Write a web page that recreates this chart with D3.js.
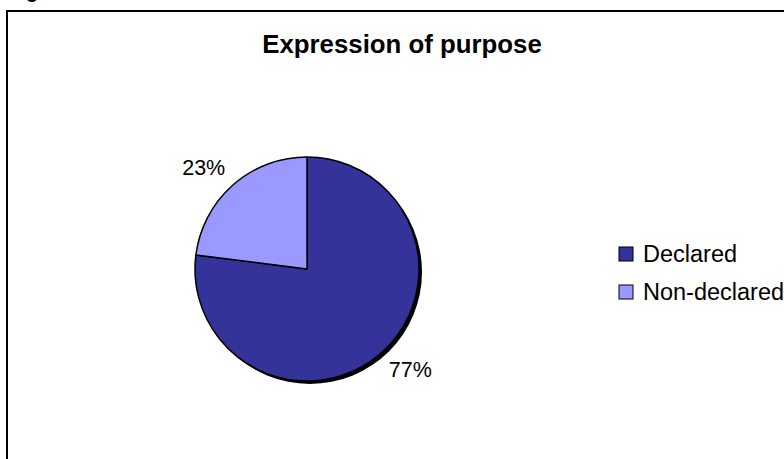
<!DOCTYPE html>
<html>
<head>
<meta charset="utf-8">
<script src="https://cdn.jsdelivr.net/npm/d3@7"></script>
<style>
  html, body { margin: 0; padding: 0; background: #fff; }
  svg { display: block; font-family: Arial, "Liberation Sans", sans-serif; }
</style>
</head>
<body>
<svg id="chart" width="784" height="459"></svg>
<script>
// Share of documents by how their purpose is expressed
const categories = ["Declared", "Non-declared"];
const values = [77, 23];
const sliceColors = ["#333399", "#9999FF"];
const titleText = "Expression of purpose";

const svg = d3.select("#chart");
const W = 784, H = 459;

// Caption fragment sitting above the frame
svg.append("text")
  .attr("x", 26).attr("y", -2)
  .attr("font-size", 20).attr("font-weight", "bold")
  .text("g");

// Chart frame (extends past the right and bottom edges)
svg.append("rect")
  .attr("x", 7).attr("y", 11)
  .attr("width", W + 20).attr("height", H + 20)
  .attr("fill", "#fff")
  .attr("stroke", "#000").attr("stroke-width", 2);

// Title
svg.append("text")
  .attr("x", 402).attr("y", 53)
  .attr("text-anchor", "middle")
  .attr("font-size", 25.8).attr("font-weight", "bold")
  .text(titleText);

// Pie
const cx = 307, cy = 269, r = 112;
const color = d3.scaleOrdinal().domain(categories).range(sliceColors);
const pie = d3.pie().sort(null).value(d => d.value);
const data = categories.map((c, i) => ({ name: c, value: values[i] }));
const arcs = pie(data);
const arc = d3.arc().innerRadius(0).outerRadius(r);

const g = svg.append("g").attr("transform", `translate(${cx},${cy})`);

// drop shadow behind the pie
g.append("circle")
  .attr("cx", 3).attr("cy", 3).attr("r", r)
  .attr("fill", "#000");

g.selectAll("path.slice")
  .data(arcs)
  .join("path")
  .attr("class", "slice")
  .attr("d", arc)
  .attr("fill", d => color(d.data.name))
  .attr("stroke", "#000")
  .attr("stroke-width", 1.5)
  .attr("stroke-linejoin", "round");

// Percentage labels placed just outside each slice
const total = d3.sum(values);
const labelR = r + 12;
const labelSize = 21.5;
g.selectAll("text.pct")
  .data(arcs)
  .join("text")
  .attr("class", "pct")
  .attr("font-size", labelSize)
  .attr("text-anchor", "middle")
  .attr("dominant-baseline", "central")
  .each(function (d) {
    const a = (d.startAngle + d.endAngle) / 2;
    const sx = Math.sin(a), sy = -Math.cos(a);
    const label = Math.round(d.data.value / total * 100) + "%";
    const w = label.length * labelSize * 0.66;
    const h = labelSize * 0.75;
    const x = sx * labelR + Math.sign(sx) * w / 2;
    const y = sy * labelR + Math.sign(sy) * h / 2;
    d3.select(this).attr("x", x).attr("y", y).text(label);
  });

// Legend
const legendSize = 23.5;
const legend = svg.append("g").attr("transform", "translate(619,247)");
const rowGap = 38;
const item = legend.selectAll("g.item")
  .data(categories)
  .join("g")
  .attr("class", "item")
  .attr("transform", (d, i) => `translate(0,${i * rowGap})`);
item.append("rect")
  .attr("width", 14).attr("height", 14)
  .attr("fill", d => color(d))
  .attr("stroke", "#000").attr("stroke-width", 1);
item.append("text")
  .attr("x", 24).attr("y", 7)
  .attr("dominant-baseline", "central")
  .attr("font-size", legendSize)
  .text(d => d);
</script>
</body>
</html>
